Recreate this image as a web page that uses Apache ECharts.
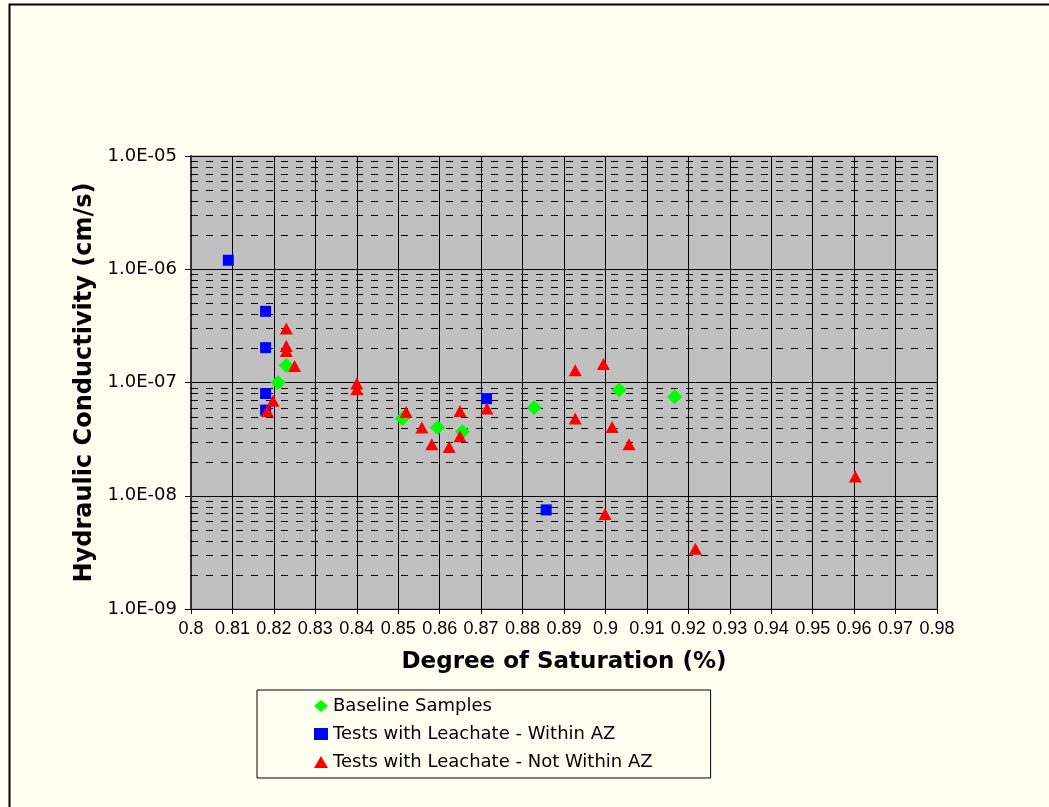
<!DOCTYPE html>
<html>
<head>
<meta charset="utf-8">
<script src="https://cdn.jsdelivr.net/npm/echarts@6/dist/echarts.min.js"></script>
<style>
  html, body { margin: 0; padding: 0; background: #FFFFF0; }
  #chart { width: 1049px; height: 807px; }
</style>
</head>
<body>
<div id="chart"></div>
<script>
// Degree of saturation vs. hydraulic conductivity
const seriesNames = [
  'Baseline Samples',
  'Tests with Leachate - Within AZ',
  'Tests with Leachate - Not Within AZ'
];

// [degree of saturation, hydraulic conductivity (cm/s)]
const baseline = [
  [0.821, 1.0e-7], [0.823, 1.41e-7], [0.851, 4.8e-8], [0.8595, 4.0e-8],
  [0.8655, 3.7e-8], [0.8828, 6.0e-8], [0.9033, 8.6e-8], [0.9167, 7.5e-8]
];
const withinAZ = [
  [0.809, 1.2e-6], [0.818, 4.25e-7], [0.818, 2.03e-7], [0.818, 8.0e-8],
  [0.818, 5.7e-8], [0.8713, 7.2e-8], [0.8857, 7.5e-9]
];
const notWithinAZ = [
  [0.823, 3.0e-7], [0.823, 2.1e-7], [0.823, 1.9e-7], [0.825, 1.4e-7],
  [0.8198, 6.9e-8], [0.8184, 5.6e-8], [0.840, 9.8e-8], [0.840, 8.7e-8],
  [0.8519, 5.5e-8], [0.8557, 4.0e-8], [0.8581, 2.85e-8], [0.8623, 2.7e-8],
  [0.8649, 5.6e-8], [0.8649, 3.35e-8], [0.8714, 5.9e-8], [0.8927, 1.28e-7],
  [0.8995, 1.46e-7], [0.8927, 4.8e-8], [0.9016, 4.05e-8], [0.9057, 2.85e-8],
  [0.8999, 6.9e-9], [0.9217, 3.4e-9], [0.9603, 1.48e-8]
];

// Axis ranges
const xMin = 0.8, xMax = 0.98, xStep = 0.01;
const yMinExp = -9, yMaxExp = -5;

// Dashed minor grid at 2..9 × 10^n inside each decade
const minorValues = [];
for (let e = yMinExp; e < yMaxExp; e++) {
  for (let m = 2; m <= 9; m++) minorValues.push([xMin, m * Math.pow(10, e)]);
}

function expLabel(v) {
  const e = Math.round(Math.log10(v));
  const s = Math.abs(e).toString().padStart(2, '0');
  return '1.0E' + (e < 0 ? '-' : '+') + s;
}

const chart = echarts.init(document.getElementById('chart'));
const arial = 'Liberation Sans, Arial, sans-serif';
const wide = 'DejaVu Sans, sans-serif';

chart.setOption({
  backgroundColor: '#FFFFF0',
  animation: false,
  graphic: [{
    type: 'rect',
    left: 7, top: 2,
    shape: { width: 1100, height: 900 },
    style: { fill: 'none', stroke: '#000', lineWidth: 2 },
    silent: true, z: -1
  }],
  grid: {
    left: 191, top: 156, right: 112, bottom: 198,
    show: true, backgroundColor: '#C0C0C0', borderColor: '#808080', borderWidth: 1
  },
  xAxis: {
    type: 'value',
    min: xMin, max: xMax, interval: xStep,
    name: 'Degree of Saturation (%)',
    nameLocation: 'middle', nameGap: 42,
    nameTextStyle: { fontFamily: wide, fontSize: 23, fontWeight: 'bold', color: '#000' },
    axisLine: { lineStyle: { color: '#000', width: 1 } },
    axisTick: { show: true, length: 5, lineStyle: { color: '#000' } },
    axisLabel: {
      fontFamily: arial, fontSize: 18, color: '#000', margin: 11,
      formatter: v => parseFloat(v.toFixed(2)).toString()
    },
    splitLine: { show: true, lineStyle: { color: '#000', width: 1 } }
  },
  yAxis: {
    type: 'log', logBase: 10,
    min: Math.pow(10, yMinExp), max: Math.pow(10, yMaxExp),
    name: 'Hydraulic Conductivity (cm/s)',
    nameLocation: 'middle', nameGap: 93, nameRotate: 90,
    nameTextStyle: { fontFamily: wide, fontSize: 24, fontWeight: 'bold', color: '#000' },
    axisLine: { show: true, lineStyle: { color: '#333', width: 2 } },
    axisTick: { show: true, length: 6, lineStyle: { color: '#000' } },
    axisLabel: { fontFamily: wide, fontSize: 18, color: '#000', margin: 14, formatter: expLabel },
    splitLine: { show: true, lineStyle: { color: '#000', width: 1 } }
  },
  legend: {
    orient: 'vertical',
    left: 257, top: 690,
    padding: [6, 58, 6, 57],
    borderColor: '#000', borderWidth: 1,
    backgroundColor: '#FFFFF0',
    itemWidth: 14, itemHeight: 12, itemGap: 8, itemStyle: { borderWidth: 0, opacity: 1 },
    textStyle: { fontFamily: wide, fontSize: 18, color: '#000', lineHeight: 20 },
    data: [
      { name: seriesNames[0], icon: 'diamond' },
      { name: seriesNames[1], icon: 'rect' },
      { name: seriesNames[2], icon: 'triangle' }
    ]
  },
  series: [
    {
      // minor log gridlines, drawn through the y scale
      type: 'custom', name: 'minor-grid', silent: true, z: 1,
      data: minorValues,
      encode: { x: 0, y: 1 },
      renderItem: function (params, api) {
        const cs = params.coordSys;
        const y = Math.round(api.coord([api.value(0), api.value(1)])[1]) + 0.5;
        return {
          type: 'line',
          shape: { x1: cs.x, y1: y, x2: cs.x + cs.width, y2: y },
          style: { stroke: '#000', lineWidth: 1, lineDash: [7, 8] }
        };
      }
    },
    {
      type: 'scatter', name: seriesNames[0], data: baseline,
      symbol: 'diamond', symbolSize: 15,
      itemStyle: { color: '#00FF00', opacity: 1 }, z: 3
    },
    {
      type: 'scatter', name: seriesNames[1], data: withinAZ,
      symbol: 'rect', symbolSize: 11,
      itemStyle: { color: '#0000FF', opacity: 1 }, z: 4
    },
    {
      type: 'scatter', name: seriesNames[2], data: notWithinAZ,
      symbol: 'triangle', symbolSize: [13, 12],
      itemStyle: { color: '#FF0000', opacity: 1 }, z: 5
    }
  ]
});
</script>
</body>
</html>
